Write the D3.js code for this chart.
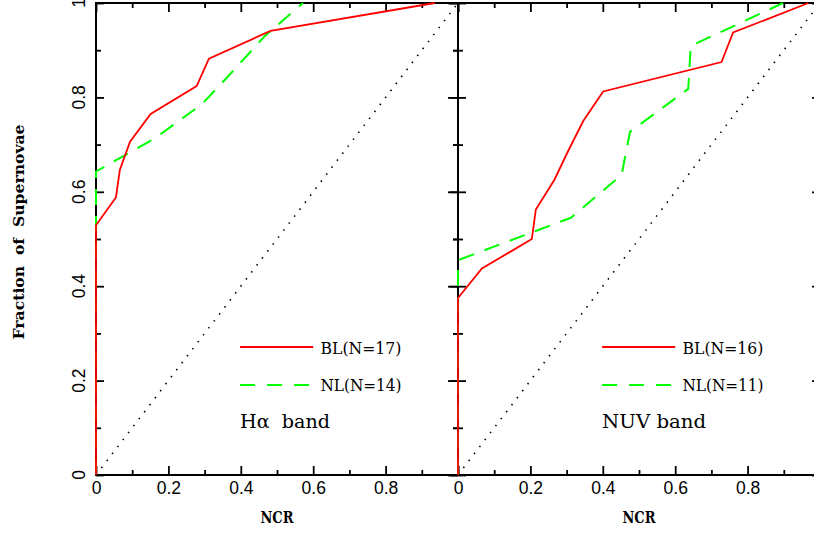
<!DOCTYPE html>
<html>
<head>
<meta charset="utf-8">
<script src="https://cdn.jsdelivr.net/npm/d3@7"></script>
<style>
  body { margin: 0; background: #fff; }
  svg { display: block; }
  .tick text { font-family: "Liberation Sans", Arial, sans-serif; font-size: 17.5px; fill: #000; }
  .serif { font-family: "DejaVu Serif", "Liberation Serif", serif; fill: #000; }
</style>
</head>
<body>
<svg id="chart" width="814" height="533"></svg>
<script>
// fraccion acumulada de supernovas vs NCR, dos bandas

const xMajor = [0, 0.2, 0.4, 0.6, 0.8, 1];
const xMinor = [0.1, 0.3, 0.5, 0.7, 0.9];
const xTickLabels = ["0", "0.2", "0.4", "0.6", "0.8", ""];
const yMajor = [0, 0.2, 0.4, 0.6, 0.8, 1];
const yMinor = [0.1, 0.3, 0.5, 0.7, 0.9];
const yTickLabels = ["0", "0.2", "0.4", "0.6", "0.8", "1"];

// H-alpha band
const haBLncr = [0, 0, 0.055, 0.066, 0.094, 0.151, 0.278, 0.312, 0.482, 0.936];
const haBLfrac = [0, 0.529, 0.588, 0.647, 0.706, 0.765, 0.824, 0.882, 0.941, 1];
const haNLncr = [0, 0, 0.164, 0.293, 0.38, 0.465, 0.572];
const haNLfrac = [0, 0.643, 0.714, 0.786, 0.857, 0.929, 1];

// NUV band
const nuvBLncr = [0, 0, 0.066, 0.204, 0.215, 0.266, 0.305, 0.346, 0.401, 0.728, 0.76, 0.968];
const nuvBLfrac = [0, 0.375, 0.4375, 0.5, 0.5625, 0.625, 0.6875, 0.75, 0.8125, 0.875, 0.9375, 1];
const nuvNLncr = [0, 0, 0.312, 0.452, 0.475, 0.636, 0.643, 0.898];
const nuvNLfrac = [0, 0.455, 0.545, 0.636, 0.727, 0.818, 0.909, 1];

const panelNames = ["H\u03b1  band", "NUV band"];
const blLabels = ["BL(N=17)", "BL(N=16)"];
const nlLabels = ["NL(N=14)", "NL(N=11)"];

const RED = "#ff0000";
const GREEN = "#00ff00";
const DASH = "16,11";

const svg = d3.select("#chart");
const y = d3.scaleLinear().domain([0, 1]).range([475, 3]);

const panels = [
  { left: 96, right: 458, bl: [haBLncr, haBLfrac], nl: [haNLncr, haNLfrac], nameW: 90 },
  { left: 458, right: 820, bl: [nuvBLncr, nuvBLfrac], nl: [nuvNLncr, nuvNLfrac], nameW: 104 },
];

function zip(xs, ys) {
  return xs.map((v, i) => [v, ys[i]]);
}

panels.forEach((p, pi) => {
  const x = d3.scaleLinear().domain([0, 1]).range([p.left, p.right]);
  const g = svg.append("g");

  // diagonal de referencia
  g.append("line")
    .attr("x1", x(0)).attr("y1", y(0)).attr("x2", x(1)).attr("y2", y(1))
    .attr("stroke", "#000").attr("stroke-width", 1.6)
    .attr("stroke-dasharray", "1.5,7.3");

  // ejes
  const axisStyle = (sel) => {
    sel.select(".domain").remove();
    sel.selectAll(".tick line").attr("stroke", "#000").attr("stroke-width", 1.8);
  };
  g.append("g").attr("transform", `translate(0,${y(0)})`)
    .call(d3.axisBottom(x).tickValues(xMajor).tickSize(-9).tickPadding(7)
      .tickFormat((d, i) => xTickLabels[i]))
    .call(axisStyle);
  g.append("g").attr("transform", `translate(0,${y(0)})`)
    .call(d3.axisBottom(x).tickValues(xMinor).tickSize(-5).tickFormat(""))
    .call(axisStyle);
  g.append("g").attr("transform", `translate(0,${y(1)})`)
    .call(d3.axisTop(x).tickValues(xMajor).tickSize(-9).tickFormat(""))
    .call(axisStyle);
  g.append("g").attr("transform", `translate(0,${y(1)})`)
    .call(d3.axisTop(x).tickValues(xMinor).tickSize(-5).tickFormat(""))
    .call(axisStyle);

  // eje izquierdo del panel: ticks a ambos lados salvo el primero
  g.append("g").attr("transform", `translate(${p.left},0)`)
    .call(d3.axisLeft(y).tickFormat("").tickValues(yMajor).tickSize(-8)).call(axisStyle);
  g.append("g").attr("transform", `translate(${p.left},0)`)
    .call(d3.axisLeft(y).tickFormat("").tickValues(yMinor).tickSize(-5)).call(axisStyle);
  if (pi > 0) {
    g.append("g").attr("transform", `translate(${p.left},0)`)
      .call(d3.axisLeft(y).tickFormat("").tickValues(yMajor).tickSize(10)).call(axisStyle);
    g.append("g").attr("transform", `translate(${p.left},0)`)
      .call(d3.axisLeft(y).tickFormat("").tickValues(yMinor).tickSize(5)).call(axisStyle);
  }
  g.append("g").attr("transform", `translate(${p.right},0)`)
    .call(d3.axisRight(y).tickFormat("").tickValues(yMajor).tickSize(-8)).call(axisStyle);
  g.append("g").attr("transform", `translate(${p.right},0)`)
    .call(d3.axisRight(y).tickFormat("").tickValues(yMinor).tickSize(-5)).call(axisStyle);

  g.append("rect")
    .attr("x", x(0)).attr("y", y(1))
    .attr("width", x(1) - x(0)).attr("height", y(0) - y(1))
    .attr("fill", "none").attr("stroke", "#000").attr("stroke-width", 2);

  // curvas acumuladas
  const line = d3.line().x((d) => x(d[0])).y((d) => y(d[1]));
  g.append("path").datum(zip(p.nl[0], p.nl[1]))
    .attr("d", line).attr("fill", "none")
    .attr("stroke", GREEN).attr("stroke-width", 2).attr("stroke-dasharray", DASH);
  g.append("path").datum(zip(p.bl[0], p.bl[1]))
    .attr("d", line).attr("fill", "none")
    .attr("stroke", RED).attr("stroke-width", 1.8);

  // leyenda
  g.append("line")
    .attr("x1", x(0.398)).attr("x2", x(0.6)).attr("y1", 347).attr("y2", 347)
    .attr("stroke", RED).attr("stroke-width", 1.8);
  g.append("line")
    .attr("x1", x(0.398)).attr("x2", x(0.59)).attr("y1", 385).attr("y2", 385)
    .attr("stroke", GREEN).attr("stroke-width", 2).attr("stroke-dasharray", "15,12");
  g.append("text").attr("class", "serif")
    .attr("x", x(0.62)).attr("y", 353.5)
    .attr("font-size", 16.5).attr("textLength", 81).attr("lengthAdjust", "spacingAndGlyphs")
    .text(blLabels[pi]);
  g.append("text").attr("class", "serif")
    .attr("x", x(0.62)).attr("y", 391)
    .attr("font-size", 16.5).attr("textLength", 81).attr("lengthAdjust", "spacingAndGlyphs")
    .text(nlLabels[pi]);
  g.append("text").attr("class", "serif")
    .attr("x", x(0.398)).attr("y", 428)
    .attr("font-size", 18).attr("textLength", p.nameW).attr("lengthAdjust", "spacingAndGlyphs")
    .style("white-space", "pre")
    .text(panelNames[pi]);

  // etiqueta eje x
  g.append("text").attr("class", "serif")
    .attr("x", x(0.5)).attr("y", 523)
    .attr("text-anchor", "middle").attr("font-size", 16).attr("font-weight", "bold")
    .attr("textLength", 33).attr("lengthAdjust", "spacingAndGlyphs")
    .text("NCR");
});

// etiquetas del eje y, giradas
svg.append("g").selectAll("text")
  .data(yMajor)
  .join("text")
  .attr("transform", (d) => `translate(85,${y(d)}) rotate(-90)`)
  .attr("text-anchor", "middle")
  .style("font-family", "'Liberation Sans', Arial, sans-serif")
  .style("font-size", "17.5px")
  .text((d, i) => yTickLabels[i]);

svg.append("text").attr("class", "serif")
  .attr("transform", "translate(24,232) rotate(-90)")
  .attr("text-anchor", "middle")
  .attr("font-size", 15).attr("font-weight", "bold")
  .attr("textLength", 215).attr("lengthAdjust", "spacingAndGlyphs")
  .style("white-space", "pre")
  .text("Fraction  of  Supernovae");
</script>
</body>
</html>
